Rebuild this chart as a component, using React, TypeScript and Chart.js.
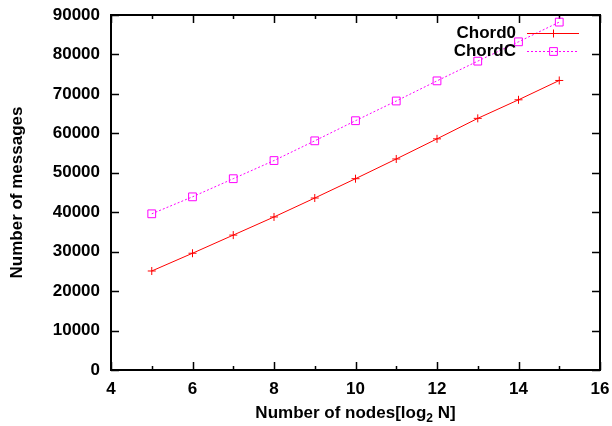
import React, { useEffect, useRef } from 'react';
import { Chart, registerables } from 'chart.js';

Chart.register(...registerables);

const nodesLog2 = [5, 6, 7, 8, 9, 10, 11, 12, 13, 14, 15];
const chord0 = [25100, 29600, 34200, 38800, 43600, 48500, 53500, 58600, 63800, 68500, 73400];
const chordC = [39600, 43900, 48500, 53100, 58100, 63200, 68200, 73300, 78300, 83200, 88200];
const seriesNames = ['Chord0', 'ChordC'];
const seriesColors = ['#ff0000', '#ff00ff'];
const seriesDashes = [[], [2, 2]];
const seriesPointStyles = ['cross', 'rect'];
const seriesPointRadius = [4, 5.5];
const xMajorTicks = [4, 6, 8, 10, 12, 14, 16];
const xMinorTicks = [5, 7, 9, 11, 13, 15];
const yTickValues = [0, 10000, 20000, 30000, 40000, 50000, 60000, 70000, 80000, 90000];
const xTitleParts = ['Number of nodes[log', '2', ' N]'];
const yTitle = 'Number of messages';

const FONT = '"Liberation Sans", Arial, Helvetica, sans-serif';
const FS = 17;
const TARGET = { left: 111, top: 15, right: 600, bottom: 370 };

const zeroPad = (s: any) => {
  s.paddingLeft = 0;
  s.paddingRight = 0;
  s.paddingTop = 0;
  s.paddingBottom = 0;
};

const framePlugin = {
  id: 'gnuFrame',
  beforeDatasetsDraw(chart: any) {
    const { ctx, chartArea } = chart;
    const xs = chart.scales.x;
    const ys = chart.scales.y;
    const { left, right, top, bottom } = chartArea;
    ctx.save();
    ctx.strokeStyle = '#000';
    ctx.lineWidth = 1.5;
    ctx.beginPath();
    for (const v of xMajorTicks) {
      const px = Math.round(xs.getPixelForValue(v)) + 0.5;
      ctx.moveTo(px, bottom); ctx.lineTo(px, bottom - 8);
      ctx.moveTo(px, top); ctx.lineTo(px, top + 8);
    }
    for (const v of xMinorTicks) {
      const px = Math.round(xs.getPixelForValue(v)) + 0.5;
      ctx.moveTo(px, bottom); ctx.lineTo(px, bottom - 4);
      ctx.moveTo(px, top); ctx.lineTo(px, top + 4);
    }
    for (const v of yTickValues) {
      const py = Math.round(ys.getPixelForValue(v)) + 0.5;
      ctx.moveTo(left, py); ctx.lineTo(left + 8, py);
      ctx.moveTo(right, py); ctx.lineTo(right - 8, py);
    }
    ctx.stroke();
    ctx.lineWidth = 2;
    ctx.strokeRect(left, top, right - left, bottom - top);
    ctx.restore();
  },
  afterDraw(chart: any) {
    const { ctx, chartArea } = chart;
    const { left, right, top, bottom } = chartArea;
    ctx.save();
    // legend
    const textRight = 516;
    const lineX0 = 527;
    const lineX1 = 579;
    const rowYs = [33, 51];
    seriesNames.forEach((name, i) => {
      const y = rowYs[i];
      const color = seriesColors[i];
      ctx.fillStyle = '#000';
      ctx.font = `bold ${FS}px ${FONT}`;
      ctx.textAlign = 'right';
      ctx.textBaseline = 'middle';
      ctx.fillText(name, textRight, y);
      ctx.fillStyle = color;
      const dash = seriesDashes[i];
      if (dash.length) {
        for (let x = lineX0; x < lineX1; x += dash[0] + dash[1]) {
          ctx.fillRect(x, y, dash[0], 1);
        }
      } else {
        ctx.fillRect(lineX0, y, lineX1 - lineX0, 1);
      }
      ctx.strokeStyle = color;
      ctx.lineWidth = 1;
      ctx.setLineDash([]);
      const r = seriesPointRadius[i];
      const cx = Math.round((lineX0 + lineX1) / 2) + 0.5;
      const cy = y + 0.5;
      ctx.beginPath();
      if (seriesPointStyles[i] === 'rect') {
        const s = Math.SQRT1_2 * r;
        ctx.rect(cx - s, cy - s, 2 * s, 2 * s);
      } else {
        ctx.moveTo(cx - r, cy); ctx.lineTo(cx + r, cy);
        ctx.moveTo(cx, cy - r); ctx.lineTo(cx, cy + r);
      }
      ctx.stroke();
    });
    // x title with subscript
    ctx.fillStyle = '#000';
    ctx.textAlign = 'left';
    ctx.textBaseline = 'alphabetic';
    const mainFont = `bold ${FS}px ${FONT}`;
    const subFont = `bold 12px ${FONT}`;
    ctx.font = mainFont;
    const w0 = ctx.measureText(xTitleParts[0]).width;
    const w2 = ctx.measureText(xTitleParts[2]).width;
    ctx.font = subFont;
    const w1 = ctx.measureText(xTitleParts[1]).width;
    const total = w0 + w1 + w2;
    const cx = (left + right) / 2;
    let x = cx - total / 2;
    const baseY = 418;
    ctx.font = mainFont;
    ctx.fillText(xTitleParts[0], x, baseY);
    x += w0;
    ctx.font = subFont;
    ctx.fillText(xTitleParts[1], x, baseY + 4);
    x += w1;
    ctx.font = mainFont;
    ctx.fillText(xTitleParts[2], x, baseY);
    // y title
    ctx.save();
    ctx.translate(22, (top + bottom) / 2);
    ctx.rotate(-Math.PI / 2);
    ctx.textAlign = 'center';
    ctx.textBaseline = 'alphabetic';
    ctx.font = mainFont;
    ctx.fillText(yTitle, 0, 0);
    ctx.restore();
    ctx.restore();
  },
};

export default function App() {
  const ref = useRef<HTMLCanvasElement>(null);
  useEffect(() => {
    if (!ref.current) return;
    const chart = new Chart(ref.current, {
      type: 'line',
      data: {
        datasets: [chord0, chordC].map((vals, k) => ({
          label: seriesNames[k],
          data: nodesLog2.map((x, i) => ({ x, y: vals[i] })),
          borderColor: seriesColors[k],
          backgroundColor: seriesColors[k],
          borderWidth: 1,
          borderDash: seriesDashes[k],
          pointStyle: seriesPointStyles[k],
          pointRadius: seriesPointRadius[k],
          pointBorderWidth: 1,
          pointBorderColor: seriesColors[k],
          pointBackgroundColor: 'rgba(0,0,0,0)',
          tension: 0,
        })) as any,
      },
      options: {
        responsive: false,
        animation: false,
        events: [],
        layout: { padding: { top: TARGET.top, right: 612 - TARGET.right, left: 0, bottom: 0 } },
        plugins: { legend: { display: false }, tooltip: { enabled: false } },
        scales: {
          x: {
            type: 'linear',
            min: 4,
            max: 16,
            afterBuildTicks: (s: any) => {
              s.ticks = xMajorTicks.map((v) => ({ value: v }));
            },
            afterFit: (s: any) => {
              s.height = 426 - TARGET.bottom;
              zeroPad(s);
            },
            ticks: {
              color: '#000',
              font: { family: FONT, size: FS, weight: 'bold' },
              padding: 9,
              maxRotation: 0,
              autoSkip: false,
            },
            grid: { display: false, drawTicks: false },
            border: { display: false },
          },
          y: {
            type: 'linear',
            min: 0,
            max: 90000,
            afterBuildTicks: (s: any) => {
              s.ticks = yTickValues.map((v) => ({ value: v }));
            },
            afterFit: (s: any) => {
              s.width = TARGET.left;
              zeroPad(s);
            },
            ticks: {
              color: '#000',
              font: { family: FONT, size: FS, weight: 'bold' },
              padding: 11,
              autoSkip: false,
              callback: (v: any) => String(v),
            },
            grid: { display: false, drawTicks: false },
            border: { display: false },
          },
        },
      } as any,
      plugins: [framePlugin],
    });
    return () => chart.destroy();
  }, []);
  return (
    <div style={{ position: 'absolute', left: 0, top: 0, width: 612, height: 426, background: '#fff' }}>
      <canvas ref={ref} width={612} height={426} style={{ display: 'block' }} />
    </div>
  );
}
